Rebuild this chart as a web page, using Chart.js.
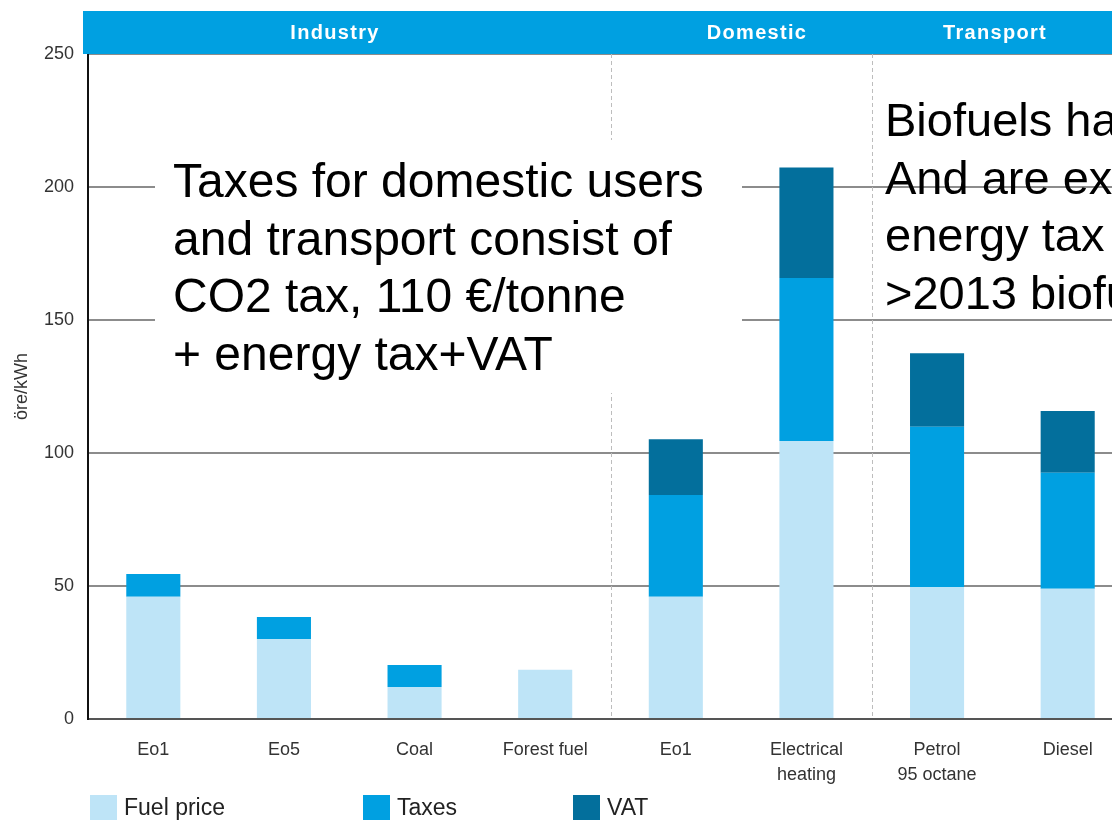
<!DOCTYPE html>
<html>
<head>
<meta charset="utf-8">
<script src="https://cdn.jsdelivr.net/npm/chart.js@4.4.1/dist/chart.umd.min.js"></script>
<style>
  html, body { margin: 0; padding: 0; background: #fff; overflow: hidden; width: 1112px; height: 820px; }
  #wrap { position: absolute; left: 0; top: 0; width: 1150px; height: 820px; }
</style>
</head>
<body>
<div id="wrap"><canvas id="chart" width="1150" height="820"></canvas></div>
<script>
// Energy prices per fuel and user group, öre/kWh
const categories = [
  'Eo1', 'Eo5', 'Coal', 'Forest fuel',
  'Eo1', ['Electrical', 'heating'],
  ['Petrol', '95 octane'], 'Diesel'
];
const fuelPrice = [46, 30, 12, 18.5, 46, 104.5, 49.5, 49];
const taxes     = [8.5, 8.3, 8.3, 0, 38.2, 61.3, 60.4, 43.6];
const vat       = [0, 0, 0, 0, 21, 41.5, 27.6, 23.2];

const seriesNames = ['Fuel price', 'Taxes', 'VAT'];
const yTicks = [0, 50, 100, 150, 200, 250];

// user groups shown in the header band: first and last category index
const groupNames = ['Industry', 'Domestic', 'Transport'];
const groupStart = [0, 4, 6];
const groupEnd   = [3, 5, 7];

const leftNote = [
  'Taxes for domestic users',
  'and transport consist of',
  'CO2 tax, 110 \u20AC/tonne',
  '+ energy tax+VAT'
];
const rightNote = [
  'Biofuels have no CO2 tax',
  'And are exempt from',
  'energy tax until',
  '>2013 biofuels'
];

const COLORS = ['#bee4f7', '#00a0e1', '#036f9c'];
const FONT = '"Liberation Sans", Arial, Helvetica, sans-serif';

// header band with user group names
const headerBand = {
  id: 'headerBand',
  afterDraw(chart) {
    const ctx = chart.ctx;
    const area = chart.chartArea;
    ctx.save();
    ctx.fillStyle = '#00a0e1';
    ctx.fillRect(83, 11, chart.width - 83, area.top - 11);
    ctx.fillStyle = '#ffffff';
    ctx.font = 'bold 20px ' + FONT;
    ctx.letterSpacing = '1.3px';
    ctx.textAlign = 'center';
    ctx.textBaseline = 'middle';
    const centers = [335, 757, 995];
    groupNames.forEach((g, i) => ctx.fillText(g, centers[i], 33));
    ctx.restore();
  }
};

// dashed separators between user groups
const groupSeparators = {
  id: 'groupSeparators',
  beforeDatasetsDraw(chart) {
    const ctx = chart.ctx;
    const x = chart.scales.x;
    const area = chart.chartArea;
    ctx.save();
    ctx.strokeStyle = '#bdbdbd';
    ctx.lineWidth = 1;
    ctx.setLineDash([4, 3]);
    for (let i = 1; i < groupStart.length; i++) {
      const px = Math.round((x.getPixelForValue(groupEnd[i - 1]) + x.getPixelForValue(groupStart[i])) / 2) + 0.5;
      ctx.beginPath();
      ctx.moveTo(px, area.top);
      ctx.lineTo(px, area.bottom);
      ctx.stroke();
    }
    ctx.restore();
  }
};

// text notes over the plot
const notes = {
  id: 'notes',
  afterDatasetsDraw(chart) {
    const ctx = chart.ctx;
    ctx.save();
    ctx.fillStyle = '#ffffff';
    ctx.fillRect(155, 140, 587, 253);
    ctx.fillStyle = '#000000';
    ctx.font = '48px ' + FONT;
    ctx.textAlign = 'left';
    ctx.textBaseline = 'alphabetic';
    leftNote.forEach((t, i) => ctx.fillText(t, 173, 197 + i * 57.5));
    ctx.font = '47px ' + FONT;
    rightNote.forEach((t, i) => ctx.fillText(t, 885, 136 + i * 57.5));
    ctx.restore();
  }
};

// legend row under the axis
const bottomLegend = {
  id: 'bottomLegend',
  afterDraw(chart) {
    const ctx = chart.ctx;
    const xs = [90, 363, 573];
    ctx.save();
    ctx.font = '23px ' + FONT;
    ctx.textAlign = 'left';
    ctx.textBaseline = 'middle';
    chart.data.datasets.forEach((ds, i) => {
      ctx.fillStyle = ds.backgroundColor;
      ctx.fillRect(xs[i], 795, 27, 30);
      ctx.fillStyle = '#222';
      ctx.fillText(ds.label, xs[i] + 34, 809);
    });
    ctx.restore();
  }
};

new Chart(document.getElementById('chart'), {
  type: 'bar',
  data: {
    labels: categories,
    datasets: [
      { label: seriesNames[0], data: fuelPrice, backgroundColor: COLORS[0] },
      { label: seriesNames[1], data: taxes, backgroundColor: COLORS[1] },
      { label: seriesNames[2], data: vat, backgroundColor: COLORS[2] }
    ]
  },
  options: {
    responsive: false,
    animation: false,
    layout: { padding: { top: 54, right: 17, left: 0, bottom: 0 } },
    datasets: { bar: { categoryPercentage: 1, barPercentage: 0.414 } },
    plugins: { legend: { display: false }, tooltip: { enabled: false } },
    scales: {
      x: {
        stacked: true,
        grid: { display: false, drawTicks: false },
        border: { display: true, color: '#555', width: 2 },
        ticks: {
          color: '#333',
          font: { family: FONT, size: 18, lineHeight: 1.4 },
          padding: 18,
          maxRotation: 0,
          autoSkip: false
        },
        afterFit(scale) { scale.height = 101; }
      },
      y: {
        stacked: true,
        min: yTicks[0],
        max: yTicks[yTicks.length - 1],
        afterBuildTicks(scale) { scale.ticks = yTicks.map(v => ({ value: v })); },
        grid: { color: '#8c8c8c', lineWidth: 2, drawTicks: false },
        border: { display: true, color: '#111', width: 2 },
        ticks: {
          color: '#333',
          font: { family: FONT, size: 18 },
          padding: 14
        },
        title: {
          display: true,
          text: 'öre/kWh',
          color: '#333',
          font: { family: FONT, size: 18 },
          padding: { top: 11, bottom: 0 }
        },
        afterFit(scale) { scale.width = 88; }
      }
    }
  },
  plugins: [groupSeparators, notes, headerBand, bottomLegend]
});
</script>
</body>
</html>
